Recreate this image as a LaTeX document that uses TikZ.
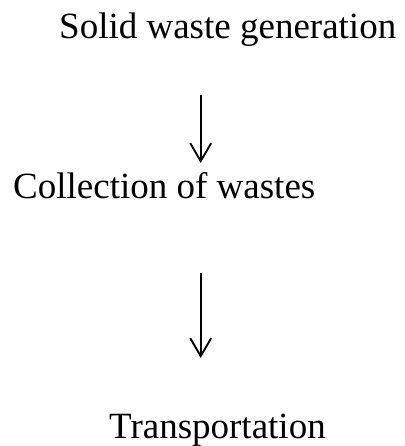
\documentclass[tikz,border=0pt]{standalone}
\usepackage{fontspec}
\setmainfont{Liberation Serif}
\usetikzlibrary{arrows.meta}
\newcommand*{\arrx}{200.7}
\newcommand*{\fsize}{37}

\begin{document}
\begin{tikzpicture}[x=1pt, y=1pt,
    stage/.style = {anchor=base west, inner sep=0pt, font=\fontsize{\fsize}{44}\selectfont},
    flow/.style  = {line width=1.9pt, -{Straight Barb[length=18pt, width=21pt, line width=1.9pt]}}]
    \useasboundingbox (0,0) rectangle (404,446);
        \node [stage] (gen)   at ( 59,407) {Solid waste generation};
        \node [stage] (coll)  at ( 13,247) {Collection of wastes};
        \node [stage] (trans) at (109,  8) {Transportation};
        \coordinate (gen-out)   at (\arrx,351);
        \coordinate (coll-in)   at (\arrx,283);
        \coordinate (coll-out)  at (\arrx,173);
        \coordinate (trans-in)  at (\arrx, 88);
        \draw [flow] (gen-out)  -- (coll-in);
        \draw [flow] (coll-out) -- (trans-in);
    \end{tikzpicture}
\end{document}
